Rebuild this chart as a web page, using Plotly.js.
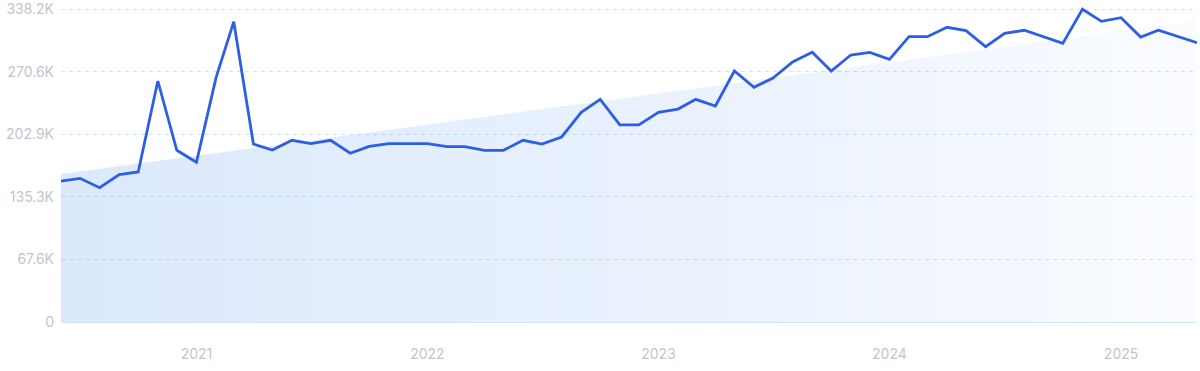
<!DOCTYPE html>
<html>
<head>
<meta charset="utf-8">
<script src="https://cdn.plot.ly/plotly-3.0.1.min.js"></script>
<style>html,body{margin:0;padding:0;background:#fff;}#chart{width:1200px;height:371px;}</style>
</head>
<body>
<div id="chart"></div>
<script>
// Monthly dates (first of month), June 2020 - May 2025
const months = [
  "2020-06-01","2020-07-01","2020-08-01","2020-09-01","2020-10-01","2020-11-01","2020-12-01",
  "2021-01-01","2021-02-01","2021-03-01","2021-04-01","2021-05-01","2021-06-01","2021-07-01","2021-08-01","2021-09-01","2021-10-01","2021-11-01","2021-12-01",
  "2022-01-01","2022-02-01","2022-03-01","2022-04-01","2022-05-01","2022-06-01","2022-07-01","2022-08-01","2022-09-01","2022-10-01","2022-11-01","2022-12-01",
  "2023-01-01","2023-02-01","2023-03-01","2023-04-01","2023-05-01","2023-06-01","2023-07-01","2023-08-01","2023-09-01","2023-10-01","2023-11-01","2023-12-01",
  "2024-01-01","2024-02-01","2024-03-01","2024-04-01","2024-05-01","2024-06-01","2024-07-01","2024-08-01","2024-09-01","2024-10-01","2024-11-01","2024-12-01",
  "2025-01-01","2025-02-01","2025-03-01","2025-04-01","2025-05-01"
];
// Values in thousands
const values = [
  152.3,155.2,145.1,159.2,162.1,260.4,185.5,
  172.6,264.0,324.5,192.3,185.8,196.3,192.7,196.3,182.3,189.8,192.7,192.7,
  192.7,189.4,189.4,185.5,185.5,196.3,192.3,199.9,226.6,240.6,212.9,212.9,
  226.6,230.1,240.6,233.4,271.2,253.6,263.6,280.9,291.4,271.2,288.5,291.4,
  283.8,308.3,308.3,318.4,314.8,297.5,311.9,315.2,308.2,301.1,337.9,324.9,
  328.8,307.9,315.2,308.5,301.8
];
const yTickVals = [0, 67.64, 135.28, 202.92, 270.56, 338.2];
const yTickText = ["0", "67.6K", "135.3K", "202.9K", "270.6K", "338.2K"];
const xTickVals = ["2021-01-01","2022-01-01","2023-01-01","2024-01-01","2025-01-01"];
const xTickText = ["2021","2022","2023","2024","2025"];

// Linear trend (least squares over month index)
const n = values.length;
let sx=0, sy=0, sxx=0, sxy=0;
for (let i=0;i<n;i++){ sx+=i; sy+=values[i]; sxx+=i*i; sxy+=i*values[i]; }
const slope = (n*sxy - sx*sy)/(n*sxx - sx*sx);
const intercept = (sy - slope*sx)/n;
const trend = values.map((_,i)=> intercept + slope*i);

const traces = [
  {
    x: months, y: trend, type: 'scatter', mode: 'lines',
    line: {width: 0, color: 'rgba(0,0,0,0)'},
    fill: 'tozeroy',
    fillgradient: {type: 'horizontal', colorscale: [[0,'rgba(59,130,240,0.18)'],[0.6,'rgba(59,130,240,0.10)'],[1,'rgba(59,130,240,0.025)']]},
    hoverinfo: 'skip', showlegend: false
  },
  {
    x: months, y: values, type: 'scatter', mode: 'lines',
    line: {color: '#2d5fe3', width: 2.8},
    cliponaxis: false, showlegend: false
  }
];

const layout = {
  width: 1200, height: 371,
  margin: {l: 61, r: 3, t: 7, b: 49},
  paper_bgcolor: '#ffffff', plot_bgcolor: '#ffffff',
  font: {family: 'Inter, "Noto Sans", sans-serif', size: 14, color: '#c3c4cc'},
  showlegend: false,
  xaxis: {
    type: 'date', range: ['2020-06-01','2025-05-01'],
    tickvals: xTickVals, ticktext: xTickText,
    showgrid: false, zeroline: false, showline: false, ticks: '',
    ticklabelstandoff: 22,
    tickfont: {size: 14, color: '#c3c4cc'}
  },
  yaxis: {
    range: [0, 340.36],
    tickvals: yTickVals, ticktext: yTickText,
    showgrid: true, gridcolor: '#d2e4f6', griddash: '4px,4px', gridwidth: 1,
    zeroline: true, zerolinecolor: '#cde4f8', zerolinewidth: 1,
    showline: false, ticks: '',
    ticklabelstandoff: 6, ticklabeloverflow: 'allow',
    tickfont: {size: 14, color: '#c3c4cc'}
  }
};

Plotly.newPlot('chart', traces, layout, {displayModeBar: false, staticPlot: true});
</script>
</body>
</html>
